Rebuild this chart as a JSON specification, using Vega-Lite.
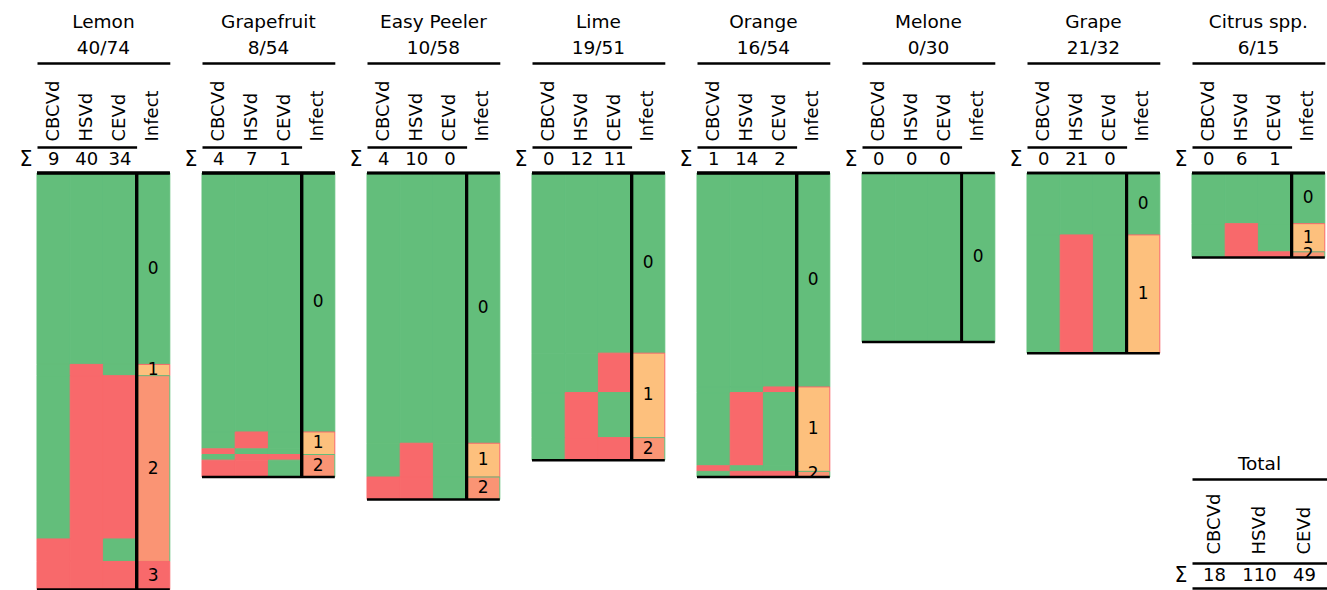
{
 "$schema": "https://vega.github.io/schema/vega-lite/v6.json",
 "padding": {"left": 19, "top": 12, "right": 0, "bottom": 0},
 "background": "white",
 "config": {
  "view": {"stroke": null},
  "font": "DejaVu Sans",
  "title": {"font": "DejaVu Sans", "fontSize": 18.5, "fontWeight": "normal", "color": "#000", "lineHeight": 26, "anchor": "middle", "offset": 6},
  "axis": {"labelFont": "DejaVu Sans", "labelColor": "#000", "grid": false}
 },
 "datasets": {
  "groups": [
   {"fruit": "Lemon", "g": 1, "n": 34, "CBCVd": 0, "HSVd": 0, "CEVd": 0, "Infect": 0},
   {"fruit": "Lemon", "g": 2, "n": 2, "CBCVd": 0, "HSVd": 1, "CEVd": 0, "Infect": 1},
   {"fruit": "Lemon", "g": 3, "n": 29, "CBCVd": 0, "HSVd": 1, "CEVd": 1, "Infect": 2},
   {"fruit": "Lemon", "g": 4, "n": 4, "CBCVd": 1, "HSVd": 1, "CEVd": 0, "Infect": 2},
   {"fruit": "Lemon", "g": 5, "n": 5, "CBCVd": 1, "HSVd": 1, "CEVd": 1, "Infect": 3},
   {"fruit": "Grapefruit", "g": 1, "n": 46, "CBCVd": 0, "HSVd": 0, "CEVd": 0, "Infect": 0},
   {"fruit": "Grapefruit", "g": 2, "n": 3, "CBCVd": 0, "HSVd": 1, "CEVd": 0, "Infect": 1},
   {"fruit": "Grapefruit", "g": 3, "n": 1, "CBCVd": 1, "HSVd": 0, "CEVd": 0, "Infect": 1},
   {"fruit": "Grapefruit", "g": 4, "n": 1, "CBCVd": 0, "HSVd": 1, "CEVd": 1, "Infect": 2},
   {"fruit": "Grapefruit", "g": 5, "n": 3, "CBCVd": 1, "HSVd": 1, "CEVd": 0, "Infect": 2},
   {"fruit": "Easy Peeler", "g": 1, "n": 48, "CBCVd": 0, "HSVd": 0, "CEVd": 0, "Infect": 0},
   {"fruit": "Easy Peeler", "g": 2, "n": 6, "CBCVd": 0, "HSVd": 1, "CEVd": 0, "Infect": 1},
   {"fruit": "Easy Peeler", "g": 3, "n": 4, "CBCVd": 1, "HSVd": 1, "CEVd": 0, "Infect": 2},
   {"fruit": "Lime", "g": 1, "n": 32, "CBCVd": 0, "HSVd": 0, "CEVd": 0, "Infect": 0},
   {"fruit": "Lime", "g": 2, "n": 7, "CBCVd": 0, "HSVd": 0, "CEVd": 1, "Infect": 1},
   {"fruit": "Lime", "g": 3, "n": 8, "CBCVd": 0, "HSVd": 1, "CEVd": 0, "Infect": 1},
   {"fruit": "Lime", "g": 4, "n": 4, "CBCVd": 0, "HSVd": 1, "CEVd": 1, "Infect": 2},
   {"fruit": "Orange", "g": 1, "n": 38, "CBCVd": 0, "HSVd": 0, "CEVd": 0, "Infect": 0},
   {"fruit": "Orange", "g": 2, "n": 1, "CBCVd": 0, "HSVd": 0, "CEVd": 1, "Infect": 1},
   {"fruit": "Orange", "g": 3, "n": 13, "CBCVd": 0, "HSVd": 1, "CEVd": 0, "Infect": 1},
   {"fruit": "Orange", "g": 4, "n": 1, "CBCVd": 1, "HSVd": 0, "CEVd": 0, "Infect": 1},
   {"fruit": "Orange", "g": 5, "n": 1, "CBCVd": 0, "HSVd": 1, "CEVd": 1, "Infect": 2},
   {"fruit": "Melone", "g": 1, "n": 30, "CBCVd": 0, "HSVd": 0, "CEVd": 0, "Infect": 0},
   {"fruit": "Grape", "g": 1, "n": 11, "CBCVd": 0, "HSVd": 0, "CEVd": 0, "Infect": 0},
   {"fruit": "Grape", "g": 2, "n": 21, "CBCVd": 0, "HSVd": 1, "CEVd": 0, "Infect": 1},
   {"fruit": "Citrus spp.", "g": 1, "n": 9, "CBCVd": 0, "HSVd": 0, "CEVd": 0, "Infect": 0},
   {"fruit": "Citrus spp.", "g": 2, "n": 5, "CBCVd": 0, "HSVd": 1, "CEVd": 0, "Infect": 1},
   {"fruit": "Citrus spp.", "g": 3, "n": 1, "CBCVd": 0, "HSVd": 1, "CEVd": 1, "Infect": 2}
  ],
  "sums": [
   {"fruit": "Lemon", "key": "CBCVd", "sum": 9}, {"fruit": "Lemon", "key": "HSVd", "sum": 40}, {"fruit": "Lemon", "key": "CEVd", "sum": 34},
   {"fruit": "Grapefruit", "key": "CBCVd", "sum": 4}, {"fruit": "Grapefruit", "key": "HSVd", "sum": 7}, {"fruit": "Grapefruit", "key": "CEVd", "sum": 1},
   {"fruit": "Easy Peeler", "key": "CBCVd", "sum": 4}, {"fruit": "Easy Peeler", "key": "HSVd", "sum": 10}, {"fruit": "Easy Peeler", "key": "CEVd", "sum": 0},
   {"fruit": "Lime", "key": "CBCVd", "sum": 0}, {"fruit": "Lime", "key": "HSVd", "sum": 12}, {"fruit": "Lime", "key": "CEVd", "sum": 11},
   {"fruit": "Orange", "key": "CBCVd", "sum": 1}, {"fruit": "Orange", "key": "HSVd", "sum": 14}, {"fruit": "Orange", "key": "CEVd", "sum": 2},
   {"fruit": "Melone", "key": "CBCVd", "sum": 0}, {"fruit": "Melone", "key": "HSVd", "sum": 0}, {"fruit": "Melone", "key": "CEVd", "sum": 0},
   {"fruit": "Grape", "key": "CBCVd", "sum": 0}, {"fruit": "Grape", "key": "HSVd", "sum": 21}, {"fruit": "Grape", "key": "CEVd", "sum": 0},
   {"fruit": "Citrus spp.", "key": "CBCVd", "sum": 0}, {"fruit": "Citrus spp.", "key": "HSVd", "sum": 6}, {"fruit": "Citrus spp.", "key": "CEVd", "sum": 1}
  ],
  "totals": [
   {"key": "CBCVd", "sum": 18}, {"key": "HSVd", "sum": 110}, {"key": "CEVd", "sum": 49}
  ]
 },
 "spacing": 12,
 "bounds": "full",
 "hconcat": [
  {"spacing": 0, "bounds": "flush", "vconcat": [
   {"width": 132.8, "height": 84, "title": {"text": ["Lemon", "40/74"]}, "data": {"name": "sums"}, "transform": [{"filter": "datum.fruit === 'Lemon'"}],
    "mark": {"type": "point", "opacity": 0},
    "encoding": {"x": {"field": "key", "type": "nominal", "scale": {"type": "band", "domain": ["CBCVd", "HSVd", "CEVd", "Infect"], "paddingInner": 0, "paddingOuter": 0}, "axis": {"orient": "top", "domain": true, "domainColor": "#000", "domainWidth": 2.5, "ticks": false, "tickSize": 0, "labelAngle": -90, "labelAlign": "left", "labelBaseline": "middle", "labelPadding": -78, "labelFontSize": 18, "labelOverlap": false, "labelBound": false, "labelFlush": false, "title": null}}}},
   {"width": 99.6, "height": 25.7, "data": {"name": "sums"}, "transform": [{"filter": "datum.fruit === 'Lemon'"}],
    "mark": {"type": "text", "fontSize": 18},
    "encoding": {"x": {"field": "key", "type": "nominal", "scale": {"type": "band", "domain": ["CBCVd", "HSVd", "CEVd"], "paddingInner": 0, "paddingOuter": 0}, "axis": {"orient": "top", "domain": true, "domainColor": "#000", "domainWidth": 2.5, "ticks": false, "labels": false, "title": null}},
     "y": {"datum": "Σ", "type": "nominal", "axis": {"domain": false, "ticks": false, "labelFontSize": 20.5, "labelPadding": 5, "title": null}},
     "text": {"field": "sum", "type": "quantitative"}}},
   {"width": 132.8, "height": 416.62, "data": {"name": "groups"}, "transform": [{"filter": "datum.fruit === 'Lemon'"}],
    "layer": [
     {"transform": [{"fold": ["CBCVd", "HSVd", "CEVd"], "as": ["key", "value"]}], "mark": {"type": "bar", "strokeWidth": 1},
      "encoding": {"x": {"field": "key", "type": "nominal", "scale": {"type": "band", "domain": ["CBCVd", "HSVd", "CEVd", "Infect"], "paddingInner": 0, "paddingOuter": 0}, "axis": null},
       "y": {"field": "n", "type": "quantitative", "stack": "zero", "scale": {"reverse": true, "nice": false, "zero": true}, "axis": null},
       "order": {"field": "g", "type": "quantitative"},
       "color": {"field": "value", "type": "nominal", "scale": {"domain": [0, 1], "range": ["#63BE7B", "#F8696B"]}, "legend": null},
       "stroke": {"field": "value", "type": "nominal", "scale": {"domain": [0, 1], "range": ["#63BE7B", "#F8696B"]}, "legend": null}}},
     {"mark": {"type": "bar", "strokeWidth": 1},
      "encoding": {"x": {"datum": "Infect", "type": "nominal", "axis": null},
       "y": {"aggregate": "sum", "field": "n", "type": "quantitative", "stack": "zero", "axis": null},
       "order": {"field": "Infect", "type": "quantitative"},
       "fill": {"field": "Infect", "type": "nominal", "scale": {"domain": [0, 1, 2, 3], "range": ["#63BE7B", "#FDC07D", "#FA9474", "#F8696B"]}, "legend": null},
       "stroke": {"field": "Infect", "type": "nominal", "scale": {"domain": [0, 1, 2, 3], "range": ["#63BE7B", "#FDC07D", "#FA9474", "#F8696B"]}, "legend": null}}},
     {"mark": {"type": "text", "fontSize": 17, "clip": true},
      "encoding": {"x": {"datum": "Infect", "type": "nominal", "axis": null},
       "y": {"aggregate": "sum", "field": "n", "type": "quantitative", "stack": "zero", "bandPosition": 0.5, "axis": null},
       "order": {"field": "Infect", "type": "quantitative"},
       "detail": {"field": "Infect", "type": "nominal"},
       "text": {"field": "Infect", "type": "nominal"}}},
     {"mark": {"type": "rule", "strokeWidth": 3, "color": "#000"}, "encoding": {"x": {"datum": "Infect", "type": "nominal", "bandPosition": 0, "axis": null}}},
     {"mark": {"type": "rule", "strokeWidth": 2.5, "color": "#000"}, "encoding": {"y": {"datum": 0, "type": "quantitative", "axis": null}}},
     {"mark": {"type": "rule", "strokeWidth": 2.5, "color": "#000"}, "encoding": {"y": {"aggregate": "sum", "field": "n", "type": "quantitative", "axis": null}}}
    ]}
  ]},
  {"spacing": 0, "bounds": "flush", "vconcat": [
   {"width": 132.8, "height": 84, "title": {"text": ["Grapefruit", "8/54"]}, "data": {"name": "sums"}, "transform": [{"filter": "datum.fruit === 'Grapefruit'"}],
    "mark": {"type": "point", "opacity": 0},
    "encoding": {"x": {"field": "key", "type": "nominal", "scale": {"type": "band", "domain": ["CBCVd", "HSVd", "CEVd", "Infect"], "paddingInner": 0, "paddingOuter": 0}, "axis": {"orient": "top", "domain": true, "domainColor": "#000", "domainWidth": 2.5, "ticks": false, "tickSize": 0, "labelAngle": -90, "labelAlign": "left", "labelBaseline": "middle", "labelPadding": -78, "labelFontSize": 18, "labelOverlap": false, "labelBound": false, "labelFlush": false, "title": null}}}},
   {"width": 99.6, "height": 25.7, "data": {"name": "sums"}, "transform": [{"filter": "datum.fruit === 'Grapefruit'"}],
    "mark": {"type": "text", "fontSize": 18},
    "encoding": {"x": {"field": "key", "type": "nominal", "scale": {"type": "band", "domain": ["CBCVd", "HSVd", "CEVd"], "paddingInner": 0, "paddingOuter": 0}, "axis": {"orient": "top", "domain": true, "domainColor": "#000", "domainWidth": 2.5, "ticks": false, "labels": false, "title": null}},
     "y": {"datum": "Σ", "type": "nominal", "axis": {"domain": false, "ticks": false, "labelFontSize": 20.5, "labelPadding": 5, "title": null}},
     "text": {"field": "sum", "type": "quantitative"}}},
   {"width": 132.8, "height": 304.02, "data": {"name": "groups"}, "transform": [{"filter": "datum.fruit === 'Grapefruit'"}],
    "layer": [
     {"transform": [{"fold": ["CBCVd", "HSVd", "CEVd"], "as": ["key", "value"]}], "mark": {"type": "bar", "strokeWidth": 1},
      "encoding": {"x": {"field": "key", "type": "nominal", "scale": {"type": "band", "domain": ["CBCVd", "HSVd", "CEVd", "Infect"], "paddingInner": 0, "paddingOuter": 0}, "axis": null},
       "y": {"field": "n", "type": "quantitative", "stack": "zero", "scale": {"reverse": true, "nice": false, "zero": true}, "axis": null},
       "order": {"field": "g", "type": "quantitative"},
       "color": {"field": "value", "type": "nominal", "scale": {"domain": [0, 1], "range": ["#63BE7B", "#F8696B"]}, "legend": null},
       "stroke": {"field": "value", "type": "nominal", "scale": {"domain": [0, 1], "range": ["#63BE7B", "#F8696B"]}, "legend": null}}},
     {"mark": {"type": "bar", "strokeWidth": 1},
      "encoding": {"x": {"datum": "Infect", "type": "nominal", "axis": null},
       "y": {"aggregate": "sum", "field": "n", "type": "quantitative", "stack": "zero", "axis": null},
       "order": {"field": "Infect", "type": "quantitative"},
       "fill": {"field": "Infect", "type": "nominal", "scale": {"domain": [0, 1, 2, 3], "range": ["#63BE7B", "#FDC07D", "#FA9474", "#F8696B"]}, "legend": null},
       "stroke": {"field": "Infect", "type": "nominal", "scale": {"domain": [0, 1, 2, 3], "range": ["#63BE7B", "#FDC07D", "#FA9474", "#F8696B"]}, "legend": null}}},
     {"mark": {"type": "text", "fontSize": 17, "clip": true},
      "encoding": {"x": {"datum": "Infect", "type": "nominal", "axis": null},
       "y": {"aggregate": "sum", "field": "n", "type": "quantitative", "stack": "zero", "bandPosition": 0.5, "axis": null},
       "order": {"field": "Infect", "type": "quantitative"},
       "detail": {"field": "Infect", "type": "nominal"},
       "text": {"field": "Infect", "type": "nominal"}}},
     {"mark": {"type": "rule", "strokeWidth": 3, "color": "#000"}, "encoding": {"x": {"datum": "Infect", "type": "nominal", "bandPosition": 0, "axis": null}}},
     {"mark": {"type": "rule", "strokeWidth": 2.5, "color": "#000"}, "encoding": {"y": {"datum": 0, "type": "quantitative", "axis": null}}},
     {"mark": {"type": "rule", "strokeWidth": 2.5, "color": "#000"}, "encoding": {"y": {"aggregate": "sum", "field": "n", "type": "quantitative", "axis": null}}}
    ]}
  ]},
  {"spacing": 0, "bounds": "flush", "vconcat": [
   {"width": 132.8, "height": 84, "title": {"text": ["Easy Peeler", "10/58"]}, "data": {"name": "sums"}, "transform": [{"filter": "datum.fruit === 'Easy Peeler'"}],
    "mark": {"type": "point", "opacity": 0},
    "encoding": {"x": {"field": "key", "type": "nominal", "scale": {"type": "band", "domain": ["CBCVd", "HSVd", "CEVd", "Infect"], "paddingInner": 0, "paddingOuter": 0}, "axis": {"orient": "top", "domain": true, "domainColor": "#000", "domainWidth": 2.5, "ticks": false, "tickSize": 0, "labelAngle": -90, "labelAlign": "left", "labelBaseline": "middle", "labelPadding": -78, "labelFontSize": 18, "labelOverlap": false, "labelBound": false, "labelFlush": false, "title": null}}}},
   {"width": 99.6, "height": 25.7, "data": {"name": "sums"}, "transform": [{"filter": "datum.fruit === 'Easy Peeler'"}],
    "mark": {"type": "text", "fontSize": 18},
    "encoding": {"x": {"field": "key", "type": "nominal", "scale": {"type": "band", "domain": ["CBCVd", "HSVd", "CEVd"], "paddingInner": 0, "paddingOuter": 0}, "axis": {"orient": "top", "domain": true, "domainColor": "#000", "domainWidth": 2.5, "ticks": false, "labels": false, "title": null}},
     "y": {"datum": "Σ", "type": "nominal", "axis": {"domain": false, "ticks": false, "labelFontSize": 20.5, "labelPadding": 5, "title": null}},
     "text": {"field": "sum", "type": "quantitative"}}},
   {"width": 132.8, "height": 326.54, "data": {"name": "groups"}, "transform": [{"filter": "datum.fruit === 'Easy Peeler'"}],
    "layer": [
     {"transform": [{"fold": ["CBCVd", "HSVd", "CEVd"], "as": ["key", "value"]}], "mark": {"type": "bar", "strokeWidth": 1},
      "encoding": {"x": {"field": "key", "type": "nominal", "scale": {"type": "band", "domain": ["CBCVd", "HSVd", "CEVd", "Infect"], "paddingInner": 0, "paddingOuter": 0}, "axis": null},
       "y": {"field": "n", "type": "quantitative", "stack": "zero", "scale": {"reverse": true, "nice": false, "zero": true}, "axis": null},
       "order": {"field": "g", "type": "quantitative"},
       "color": {"field": "value", "type": "nominal", "scale": {"domain": [0, 1], "range": ["#63BE7B", "#F8696B"]}, "legend": null},
       "stroke": {"field": "value", "type": "nominal", "scale": {"domain": [0, 1], "range": ["#63BE7B", "#F8696B"]}, "legend": null}}},
     {"mark": {"type": "bar", "strokeWidth": 1},
      "encoding": {"x": {"datum": "Infect", "type": "nominal", "axis": null},
       "y": {"aggregate": "sum", "field": "n", "type": "quantitative", "stack": "zero", "axis": null},
       "order": {"field": "Infect", "type": "quantitative"},
       "fill": {"field": "Infect", "type": "nominal", "scale": {"domain": [0, 1, 2, 3], "range": ["#63BE7B", "#FDC07D", "#FA9474", "#F8696B"]}, "legend": null},
       "stroke": {"field": "Infect", "type": "nominal", "scale": {"domain": [0, 1, 2, 3], "range": ["#63BE7B", "#FDC07D", "#FA9474", "#F8696B"]}, "legend": null}}},
     {"mark": {"type": "text", "fontSize": 17, "clip": true},
      "encoding": {"x": {"datum": "Infect", "type": "nominal", "axis": null},
       "y": {"aggregate": "sum", "field": "n", "type": "quantitative", "stack": "zero", "bandPosition": 0.5, "axis": null},
       "order": {"field": "Infect", "type": "quantitative"},
       "detail": {"field": "Infect", "type": "nominal"},
       "text": {"field": "Infect", "type": "nominal"}}},
     {"mark": {"type": "rule", "strokeWidth": 3, "color": "#000"}, "encoding": {"x": {"datum": "Infect", "type": "nominal", "bandPosition": 0, "axis": null}}},
     {"mark": {"type": "rule", "strokeWidth": 2.5, "color": "#000"}, "encoding": {"y": {"datum": 0, "type": "quantitative", "axis": null}}},
     {"mark": {"type": "rule", "strokeWidth": 2.5, "color": "#000"}, "encoding": {"y": {"aggregate": "sum", "field": "n", "type": "quantitative", "axis": null}}}
    ]}
  ]},
  {"spacing": 0, "bounds": "flush", "vconcat": [
   {"width": 132.8, "height": 84, "title": {"text": ["Lime", "19/51"]}, "data": {"name": "sums"}, "transform": [{"filter": "datum.fruit === 'Lime'"}],
    "mark": {"type": "point", "opacity": 0},
    "encoding": {"x": {"field": "key", "type": "nominal", "scale": {"type": "band", "domain": ["CBCVd", "HSVd", "CEVd", "Infect"], "paddingInner": 0, "paddingOuter": 0}, "axis": {"orient": "top", "domain": true, "domainColor": "#000", "domainWidth": 2.5, "ticks": false, "tickSize": 0, "labelAngle": -90, "labelAlign": "left", "labelBaseline": "middle", "labelPadding": -78, "labelFontSize": 18, "labelOverlap": false, "labelBound": false, "labelFlush": false, "title": null}}}},
   {"width": 99.6, "height": 25.7, "data": {"name": "sums"}, "transform": [{"filter": "datum.fruit === 'Lime'"}],
    "mark": {"type": "text", "fontSize": 18},
    "encoding": {"x": {"field": "key", "type": "nominal", "scale": {"type": "band", "domain": ["CBCVd", "HSVd", "CEVd"], "paddingInner": 0, "paddingOuter": 0}, "axis": {"orient": "top", "domain": true, "domainColor": "#000", "domainWidth": 2.5, "ticks": false, "labels": false, "title": null}},
     "y": {"datum": "Σ", "type": "nominal", "axis": {"domain": false, "ticks": false, "labelFontSize": 20.5, "labelPadding": 5, "title": null}},
     "text": {"field": "sum", "type": "quantitative"}}},
   {"width": 132.8, "height": 287.13, "data": {"name": "groups"}, "transform": [{"filter": "datum.fruit === 'Lime'"}],
    "layer": [
     {"transform": [{"fold": ["CBCVd", "HSVd", "CEVd"], "as": ["key", "value"]}], "mark": {"type": "bar", "strokeWidth": 1},
      "encoding": {"x": {"field": "key", "type": "nominal", "scale": {"type": "band", "domain": ["CBCVd", "HSVd", "CEVd", "Infect"], "paddingInner": 0, "paddingOuter": 0}, "axis": null},
       "y": {"field": "n", "type": "quantitative", "stack": "zero", "scale": {"reverse": true, "nice": false, "zero": true}, "axis": null},
       "order": {"field": "g", "type": "quantitative"},
       "color": {"field": "value", "type": "nominal", "scale": {"domain": [0, 1], "range": ["#63BE7B", "#F8696B"]}, "legend": null},
       "stroke": {"field": "value", "type": "nominal", "scale": {"domain": [0, 1], "range": ["#63BE7B", "#F8696B"]}, "legend": null}}},
     {"mark": {"type": "bar", "strokeWidth": 1},
      "encoding": {"x": {"datum": "Infect", "type": "nominal", "axis": null},
       "y": {"aggregate": "sum", "field": "n", "type": "quantitative", "stack": "zero", "axis": null},
       "order": {"field": "Infect", "type": "quantitative"},
       "fill": {"field": "Infect", "type": "nominal", "scale": {"domain": [0, 1, 2, 3], "range": ["#63BE7B", "#FDC07D", "#FA9474", "#F8696B"]}, "legend": null},
       "stroke": {"field": "Infect", "type": "nominal", "scale": {"domain": [0, 1, 2, 3], "range": ["#63BE7B", "#FDC07D", "#FA9474", "#F8696B"]}, "legend": null}}},
     {"mark": {"type": "text", "fontSize": 17, "clip": true},
      "encoding": {"x": {"datum": "Infect", "type": "nominal", "axis": null},
       "y": {"aggregate": "sum", "field": "n", "type": "quantitative", "stack": "zero", "bandPosition": 0.5, "axis": null},
       "order": {"field": "Infect", "type": "quantitative"},
       "detail": {"field": "Infect", "type": "nominal"},
       "text": {"field": "Infect", "type": "nominal"}}},
     {"mark": {"type": "rule", "strokeWidth": 3, "color": "#000"}, "encoding": {"x": {"datum": "Infect", "type": "nominal", "bandPosition": 0, "axis": null}}},
     {"mark": {"type": "rule", "strokeWidth": 2.5, "color": "#000"}, "encoding": {"y": {"datum": 0, "type": "quantitative", "axis": null}}},
     {"mark": {"type": "rule", "strokeWidth": 2.5, "color": "#000"}, "encoding": {"y": {"aggregate": "sum", "field": "n", "type": "quantitative", "axis": null}}}
    ]}
  ]},
  {"spacing": 0, "bounds": "flush", "vconcat": [
   {"width": 132.8, "height": 84, "title": {"text": ["Orange", "16/54"]}, "data": {"name": "sums"}, "transform": [{"filter": "datum.fruit === 'Orange'"}],
    "mark": {"type": "point", "opacity": 0},
    "encoding": {"x": {"field": "key", "type": "nominal", "scale": {"type": "band", "domain": ["CBCVd", "HSVd", "CEVd", "Infect"], "paddingInner": 0, "paddingOuter": 0}, "axis": {"orient": "top", "domain": true, "domainColor": "#000", "domainWidth": 2.5, "ticks": false, "tickSize": 0, "labelAngle": -90, "labelAlign": "left", "labelBaseline": "middle", "labelPadding": -78, "labelFontSize": 18, "labelOverlap": false, "labelBound": false, "labelFlush": false, "title": null}}}},
   {"width": 99.6, "height": 25.7, "data": {"name": "sums"}, "transform": [{"filter": "datum.fruit === 'Orange'"}],
    "mark": {"type": "text", "fontSize": 18},
    "encoding": {"x": {"field": "key", "type": "nominal", "scale": {"type": "band", "domain": ["CBCVd", "HSVd", "CEVd"], "paddingInner": 0, "paddingOuter": 0}, "axis": {"orient": "top", "domain": true, "domainColor": "#000", "domainWidth": 2.5, "ticks": false, "labels": false, "title": null}},
     "y": {"datum": "Σ", "type": "nominal", "axis": {"domain": false, "ticks": false, "labelFontSize": 20.5, "labelPadding": 5, "title": null}},
     "text": {"field": "sum", "type": "quantitative"}}},
   {"width": 132.8, "height": 304.02, "data": {"name": "groups"}, "transform": [{"filter": "datum.fruit === 'Orange'"}],
    "layer": [
     {"transform": [{"fold": ["CBCVd", "HSVd", "CEVd"], "as": ["key", "value"]}], "mark": {"type": "bar", "strokeWidth": 1},
      "encoding": {"x": {"field": "key", "type": "nominal", "scale": {"type": "band", "domain": ["CBCVd", "HSVd", "CEVd", "Infect"], "paddingInner": 0, "paddingOuter": 0}, "axis": null},
       "y": {"field": "n", "type": "quantitative", "stack": "zero", "scale": {"reverse": true, "nice": false, "zero": true}, "axis": null},
       "order": {"field": "g", "type": "quantitative"},
       "color": {"field": "value", "type": "nominal", "scale": {"domain": [0, 1], "range": ["#63BE7B", "#F8696B"]}, "legend": null},
       "stroke": {"field": "value", "type": "nominal", "scale": {"domain": [0, 1], "range": ["#63BE7B", "#F8696B"]}, "legend": null}}},
     {"mark": {"type": "bar", "strokeWidth": 1},
      "encoding": {"x": {"datum": "Infect", "type": "nominal", "axis": null},
       "y": {"aggregate": "sum", "field": "n", "type": "quantitative", "stack": "zero", "axis": null},
       "order": {"field": "Infect", "type": "quantitative"},
       "fill": {"field": "Infect", "type": "nominal", "scale": {"domain": [0, 1, 2, 3], "range": ["#63BE7B", "#FDC07D", "#FA9474", "#F8696B"]}, "legend": null},
       "stroke": {"field": "Infect", "type": "nominal", "scale": {"domain": [0, 1, 2, 3], "range": ["#63BE7B", "#FDC07D", "#FA9474", "#F8696B"]}, "legend": null}}},
     {"mark": {"type": "text", "fontSize": 17, "clip": true},
      "encoding": {"x": {"datum": "Infect", "type": "nominal", "axis": null},
       "y": {"aggregate": "sum", "field": "n", "type": "quantitative", "stack": "zero", "bandPosition": 0.5, "axis": null},
       "order": {"field": "Infect", "type": "quantitative"},
       "detail": {"field": "Infect", "type": "nominal"},
       "text": {"field": "Infect", "type": "nominal"}}},
     {"mark": {"type": "rule", "strokeWidth": 3, "color": "#000"}, "encoding": {"x": {"datum": "Infect", "type": "nominal", "bandPosition": 0, "axis": null}}},
     {"mark": {"type": "rule", "strokeWidth": 2.5, "color": "#000"}, "encoding": {"y": {"datum": 0, "type": "quantitative", "axis": null}}},
     {"mark": {"type": "rule", "strokeWidth": 2.5, "color": "#000"}, "encoding": {"y": {"aggregate": "sum", "field": "n", "type": "quantitative", "axis": null}}}
    ]}
  ]},
  {"spacing": 0, "bounds": "flush", "vconcat": [
   {"width": 132.8, "height": 84, "title": {"text": ["Melone", "0/30"]}, "data": {"name": "sums"}, "transform": [{"filter": "datum.fruit === 'Melone'"}],
    "mark": {"type": "point", "opacity": 0},
    "encoding": {"x": {"field": "key", "type": "nominal", "scale": {"type": "band", "domain": ["CBCVd", "HSVd", "CEVd", "Infect"], "paddingInner": 0, "paddingOuter": 0}, "axis": {"orient": "top", "domain": true, "domainColor": "#000", "domainWidth": 2.5, "ticks": false, "tickSize": 0, "labelAngle": -90, "labelAlign": "left", "labelBaseline": "middle", "labelPadding": -78, "labelFontSize": 18, "labelOverlap": false, "labelBound": false, "labelFlush": false, "title": null}}}},
   {"width": 99.6, "height": 25.7, "data": {"name": "sums"}, "transform": [{"filter": "datum.fruit === 'Melone'"}],
    "mark": {"type": "text", "fontSize": 18},
    "encoding": {"x": {"field": "key", "type": "nominal", "scale": {"type": "band", "domain": ["CBCVd", "HSVd", "CEVd"], "paddingInner": 0, "paddingOuter": 0}, "axis": {"orient": "top", "domain": true, "domainColor": "#000", "domainWidth": 2.5, "ticks": false, "labels": false, "title": null}},
     "y": {"datum": "Σ", "type": "nominal", "axis": {"domain": false, "ticks": false, "labelFontSize": 20.5, "labelPadding": 5, "title": null}},
     "text": {"field": "sum", "type": "quantitative"}}},
   {"width": 132.8, "height": 168.9, "data": {"name": "groups"}, "transform": [{"filter": "datum.fruit === 'Melone'"}],
    "layer": [
     {"transform": [{"fold": ["CBCVd", "HSVd", "CEVd"], "as": ["key", "value"]}], "mark": {"type": "bar", "strokeWidth": 1},
      "encoding": {"x": {"field": "key", "type": "nominal", "scale": {"type": "band", "domain": ["CBCVd", "HSVd", "CEVd", "Infect"], "paddingInner": 0, "paddingOuter": 0}, "axis": null},
       "y": {"field": "n", "type": "quantitative", "stack": "zero", "scale": {"reverse": true, "nice": false, "zero": true}, "axis": null},
       "order": {"field": "g", "type": "quantitative"},
       "color": {"field": "value", "type": "nominal", "scale": {"domain": [0, 1], "range": ["#63BE7B", "#F8696B"]}, "legend": null},
       "stroke": {"field": "value", "type": "nominal", "scale": {"domain": [0, 1], "range": ["#63BE7B", "#F8696B"]}, "legend": null}}},
     {"mark": {"type": "bar", "strokeWidth": 1},
      "encoding": {"x": {"datum": "Infect", "type": "nominal", "axis": null},
       "y": {"aggregate": "sum", "field": "n", "type": "quantitative", "stack": "zero", "axis": null},
       "order": {"field": "Infect", "type": "quantitative"},
       "fill": {"field": "Infect", "type": "nominal", "scale": {"domain": [0, 1, 2, 3], "range": ["#63BE7B", "#FDC07D", "#FA9474", "#F8696B"]}, "legend": null},
       "stroke": {"field": "Infect", "type": "nominal", "scale": {"domain": [0, 1, 2, 3], "range": ["#63BE7B", "#FDC07D", "#FA9474", "#F8696B"]}, "legend": null}}},
     {"mark": {"type": "text", "fontSize": 17, "clip": true},
      "encoding": {"x": {"datum": "Infect", "type": "nominal", "axis": null},
       "y": {"aggregate": "sum", "field": "n", "type": "quantitative", "stack": "zero", "bandPosition": 0.5, "axis": null},
       "order": {"field": "Infect", "type": "quantitative"},
       "detail": {"field": "Infect", "type": "nominal"},
       "text": {"field": "Infect", "type": "nominal"}}},
     {"mark": {"type": "rule", "strokeWidth": 3, "color": "#000"}, "encoding": {"x": {"datum": "Infect", "type": "nominal", "bandPosition": 0, "axis": null}}},
     {"mark": {"type": "rule", "strokeWidth": 2.5, "color": "#000"}, "encoding": {"y": {"datum": 0, "type": "quantitative", "axis": null}}},
     {"mark": {"type": "rule", "strokeWidth": 2.5, "color": "#000"}, "encoding": {"y": {"aggregate": "sum", "field": "n", "type": "quantitative", "axis": null}}}
    ]}
  ]},
  {"spacing": 0, "bounds": "flush", "vconcat": [
   {"width": 132.8, "height": 84, "title": {"text": ["Grape", "21/32"]}, "data": {"name": "sums"}, "transform": [{"filter": "datum.fruit === 'Grape'"}],
    "mark": {"type": "point", "opacity": 0},
    "encoding": {"x": {"field": "key", "type": "nominal", "scale": {"type": "band", "domain": ["CBCVd", "HSVd", "CEVd", "Infect"], "paddingInner": 0, "paddingOuter": 0}, "axis": {"orient": "top", "domain": true, "domainColor": "#000", "domainWidth": 2.5, "ticks": false, "tickSize": 0, "labelAngle": -90, "labelAlign": "left", "labelBaseline": "middle", "labelPadding": -78, "labelFontSize": 18, "labelOverlap": false, "labelBound": false, "labelFlush": false, "title": null}}}},
   {"width": 99.6, "height": 25.7, "data": {"name": "sums"}, "transform": [{"filter": "datum.fruit === 'Grape'"}],
    "mark": {"type": "text", "fontSize": 18},
    "encoding": {"x": {"field": "key", "type": "nominal", "scale": {"type": "band", "domain": ["CBCVd", "HSVd", "CEVd"], "paddingInner": 0, "paddingOuter": 0}, "axis": {"orient": "top", "domain": true, "domainColor": "#000", "domainWidth": 2.5, "ticks": false, "labels": false, "title": null}},
     "y": {"datum": "Σ", "type": "nominal", "axis": {"domain": false, "ticks": false, "labelFontSize": 20.5, "labelPadding": 5, "title": null}},
     "text": {"field": "sum", "type": "quantitative"}}},
   {"width": 132.8, "height": 180.16, "data": {"name": "groups"}, "transform": [{"filter": "datum.fruit === 'Grape'"}],
    "layer": [
     {"transform": [{"fold": ["CBCVd", "HSVd", "CEVd"], "as": ["key", "value"]}], "mark": {"type": "bar", "strokeWidth": 1},
      "encoding": {"x": {"field": "key", "type": "nominal", "scale": {"type": "band", "domain": ["CBCVd", "HSVd", "CEVd", "Infect"], "paddingInner": 0, "paddingOuter": 0}, "axis": null},
       "y": {"field": "n", "type": "quantitative", "stack": "zero", "scale": {"reverse": true, "nice": false, "zero": true}, "axis": null},
       "order": {"field": "g", "type": "quantitative"},
       "color": {"field": "value", "type": "nominal", "scale": {"domain": [0, 1], "range": ["#63BE7B", "#F8696B"]}, "legend": null},
       "stroke": {"field": "value", "type": "nominal", "scale": {"domain": [0, 1], "range": ["#63BE7B", "#F8696B"]}, "legend": null}}},
     {"mark": {"type": "bar", "strokeWidth": 1},
      "encoding": {"x": {"datum": "Infect", "type": "nominal", "axis": null},
       "y": {"aggregate": "sum", "field": "n", "type": "quantitative", "stack": "zero", "axis": null},
       "order": {"field": "Infect", "type": "quantitative"},
       "fill": {"field": "Infect", "type": "nominal", "scale": {"domain": [0, 1, 2, 3], "range": ["#63BE7B", "#FDC07D", "#FA9474", "#F8696B"]}, "legend": null},
       "stroke": {"field": "Infect", "type": "nominal", "scale": {"domain": [0, 1, 2, 3], "range": ["#63BE7B", "#FDC07D", "#FA9474", "#F8696B"]}, "legend": null}}},
     {"mark": {"type": "text", "fontSize": 17, "clip": true},
      "encoding": {"x": {"datum": "Infect", "type": "nominal", "axis": null},
       "y": {"aggregate": "sum", "field": "n", "type": "quantitative", "stack": "zero", "bandPosition": 0.5, "axis": null},
       "order": {"field": "Infect", "type": "quantitative"},
       "detail": {"field": "Infect", "type": "nominal"},
       "text": {"field": "Infect", "type": "nominal"}}},
     {"mark": {"type": "rule", "strokeWidth": 3, "color": "#000"}, "encoding": {"x": {"datum": "Infect", "type": "nominal", "bandPosition": 0, "axis": null}}},
     {"mark": {"type": "rule", "strokeWidth": 2.5, "color": "#000"}, "encoding": {"y": {"datum": 0, "type": "quantitative", "axis": null}}},
     {"mark": {"type": "rule", "strokeWidth": 2.5, "color": "#000"}, "encoding": {"y": {"aggregate": "sum", "field": "n", "type": "quantitative", "axis": null}}}
    ]}
  ]},
  {"spacing": 195, "bounds": "full", "vconcat": [
   {"spacing": 0, "bounds": "flush", "vconcat": [
    {"width": 132.8, "height": 84, "title": {"text": ["Citrus spp.", "6/15"]}, "data": {"name": "sums"}, "transform": [{"filter": "datum.fruit === 'Citrus spp.'"}],
     "mark": {"type": "point", "opacity": 0},
     "encoding": {"x": {"field": "key", "type": "nominal", "scale": {"type": "band", "domain": ["CBCVd", "HSVd", "CEVd", "Infect"], "paddingInner": 0, "paddingOuter": 0}, "axis": {"orient": "top", "domain": true, "domainColor": "#000", "domainWidth": 2.5, "ticks": false, "tickSize": 0, "labelAngle": -90, "labelAlign": "left", "labelBaseline": "middle", "labelPadding": -78, "labelFontSize": 18, "labelOverlap": false, "labelBound": false, "labelFlush": false, "title": null}}}},
    {"width": 99.6, "height": 25.7, "data": {"name": "sums"}, "transform": [{"filter": "datum.fruit === 'Citrus spp.'"}],
     "mark": {"type": "text", "fontSize": 18},
     "encoding": {"x": {"field": "key", "type": "nominal", "scale": {"type": "band", "domain": ["CBCVd", "HSVd", "CEVd"], "paddingInner": 0, "paddingOuter": 0}, "axis": {"orient": "top", "domain": true, "domainColor": "#000", "domainWidth": 2.5, "ticks": false, "labels": false, "title": null}},
      "y": {"datum": "Σ", "type": "nominal", "axis": {"domain": false, "ticks": false, "labelFontSize": 20.5, "labelPadding": 5, "title": null}},
      "text": {"field": "sum", "type": "quantitative"}}},
    {"width": 132.8, "height": 84.45, "data": {"name": "groups"}, "transform": [{"filter": "datum.fruit === 'Citrus spp.'"}],
     "layer": [
      {"transform": [{"fold": ["CBCVd", "HSVd", "CEVd"], "as": ["key", "value"]}], "mark": {"type": "bar", "strokeWidth": 1},
       "encoding": {"x": {"field": "key", "type": "nominal", "scale": {"type": "band", "domain": ["CBCVd", "HSVd", "CEVd", "Infect"], "paddingInner": 0, "paddingOuter": 0}, "axis": null},
        "y": {"field": "n", "type": "quantitative", "stack": "zero", "scale": {"reverse": true, "nice": false, "zero": true}, "axis": null},
        "order": {"field": "g", "type": "quantitative"},
        "color": {"field": "value", "type": "nominal", "scale": {"domain": [0, 1], "range": ["#63BE7B", "#F8696B"]}, "legend": null},
        "stroke": {"field": "value", "type": "nominal", "scale": {"domain": [0, 1], "range": ["#63BE7B", "#F8696B"]}, "legend": null}}},
      {"mark": {"type": "bar", "strokeWidth": 1},
       "encoding": {"x": {"datum": "Infect", "type": "nominal", "axis": null},
        "y": {"aggregate": "sum", "field": "n", "type": "quantitative", "stack": "zero", "axis": null},
        "order": {"field": "Infect", "type": "quantitative"},
        "fill": {"field": "Infect", "type": "nominal", "scale": {"domain": [0, 1, 2, 3], "range": ["#63BE7B", "#FDC07D", "#FA9474", "#F8696B"]}, "legend": null},
        "stroke": {"field": "Infect", "type": "nominal", "scale": {"domain": [0, 1, 2, 3], "range": ["#63BE7B", "#FDC07D", "#FA9474", "#F8696B"]}, "legend": null}}},
      {"mark": {"type": "text", "fontSize": 17, "clip": true},
       "encoding": {"x": {"datum": "Infect", "type": "nominal", "axis": null},
        "y": {"aggregate": "sum", "field": "n", "type": "quantitative", "stack": "zero", "bandPosition": 0.5, "axis": null},
        "order": {"field": "Infect", "type": "quantitative"},
        "detail": {"field": "Infect", "type": "nominal"},
        "text": {"field": "Infect", "type": "nominal"}}},
      {"mark": {"type": "rule", "strokeWidth": 3, "color": "#000"}, "encoding": {"x": {"datum": "Infect", "type": "nominal", "bandPosition": 0, "axis": null}}},
      {"mark": {"type": "rule", "strokeWidth": 2.5, "color": "#000"}, "encoding": {"y": {"datum": 0, "type": "quantitative", "axis": null}}},
      {"mark": {"type": "rule", "strokeWidth": 2.5, "color": "#000"}, "encoding": {"y": {"aggregate": "sum", "field": "n", "type": "quantitative", "axis": null}}}
     ]}
   ]},
   {"spacing": 0, "bounds": "flush", "vconcat": [
    {"width": 135, "height": 84, "title": {"text": "Total"}, "data": {"name": "totals"},
     "mark": {"type": "point", "opacity": 0},
     "encoding": {"x": {"field": "key", "type": "nominal", "scale": {"type": "band", "domain": ["CBCVd", "HSVd", "CEVd"], "paddingInner": 0, "paddingOuter": 0}, "axis": {"orient": "top", "domain": true, "domainColor": "#000", "domainWidth": 2.5, "ticks": false, "tickSize": 0, "labelAngle": -90, "labelAlign": "left", "labelBaseline": "middle", "labelPadding": -75, "labelFontSize": 18, "labelOverlap": false, "labelBound": false, "labelFlush": false, "title": null}}}},
    {"width": 135, "height": 25, "data": {"name": "totals"},
     "layer": [
      {"mark": {"type": "text", "fontSize": 18},
       "encoding": {"x": {"field": "key", "type": "nominal", "scale": {"type": "band", "domain": ["CBCVd", "HSVd", "CEVd"], "paddingInner": 0, "paddingOuter": 0}, "axis": {"orient": "top", "domain": true, "domainColor": "#000", "domainWidth": 2.5, "ticks": false, "labels": false, "title": null}},
        "y": {"datum": "Σ", "type": "nominal", "axis": {"domain": false, "ticks": false, "labelFontSize": 20.5, "labelPadding": 5, "title": null}},
        "text": {"field": "sum", "type": "quantitative"}}},
      {"mark": {"type": "point", "opacity": 0},
       "encoding": {"x": {"field": "key", "type": "nominal", "scale": {"type": "band", "domain": ["CBCVd", "HSVd", "CEVd"], "paddingInner": 0, "paddingOuter": 0}, "axis": {"orient": "bottom", "domain": true, "domainColor": "#000", "domainWidth": 2.5, "ticks": false, "labels": false, "title": null}}}}
     ],
     "resolve": {"axis": {"x": "independent"}}}
   ]}
  ]}
 ]
}
